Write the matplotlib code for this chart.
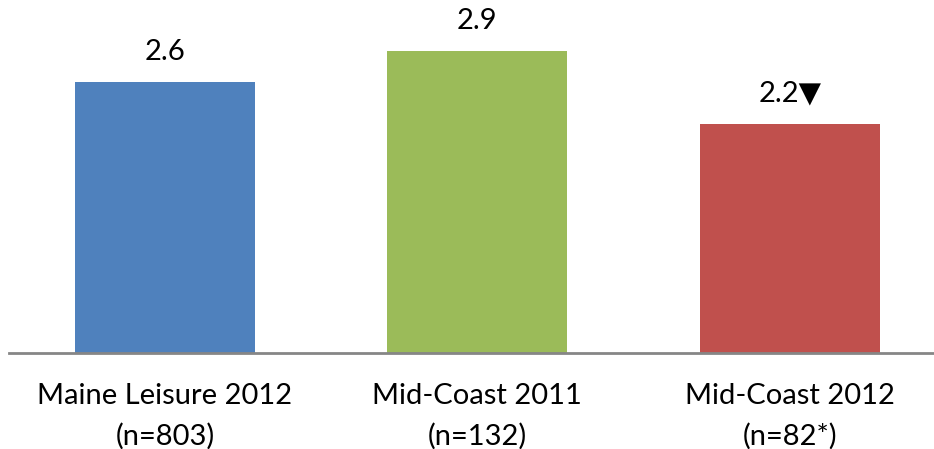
import matplotlib.pyplot as plt

categories = ['Maine Leisure 2012\n(n=803)', 'Mid-Coast 2011\n(n=132)', 'Mid-Coast 2012\n(n=82*)']
values = [2.6, 2.9, 2.2]
value_labels = ['2.6', '2.9', '2.2\u25bc']
colors = ['#4F81BD', '#9BBB59', '#C0504D']

plt.rcParams['font.family'] = ['Lato', 'DejaVu Sans']

fig = plt.figure(figsize=(9.34, 4.49), dpi=100)
ax = fig.add_axes([9 / 934, 96.5 / 449, 925 / 934, 352.5 / 449])

x = range(len(values))
bars = ax.bar(x, values, width=0.576, color=colors, zorder=2)

for bar, lab in zip(bars, value_labels):
    ax.annotate(lab, (bar.get_x() + bar.get_width() / 2, bar.get_height()),
                xytext=(0, 17), textcoords='offset pixels',
                ha='center', va='bottom', fontsize=21, color='black')

ax.set_xlim(-0.499, 2.461)
ax.set_ylim(0, 3.39)
ax.set_xticks(list(x))
ax.set_xticklabels(categories, fontsize=21, linespacing=1.62)
ax.tick_params(axis='x', length=0, pad=22)
ax.set_yticks([])

for side in ['top', 'right', 'left']:
    ax.spines[side].set_visible(False)
ax.spines['bottom'].set_color('#868686')
ax.spines['bottom'].set_linewidth(2)

fig.savefig('out.png', dpi=100)
